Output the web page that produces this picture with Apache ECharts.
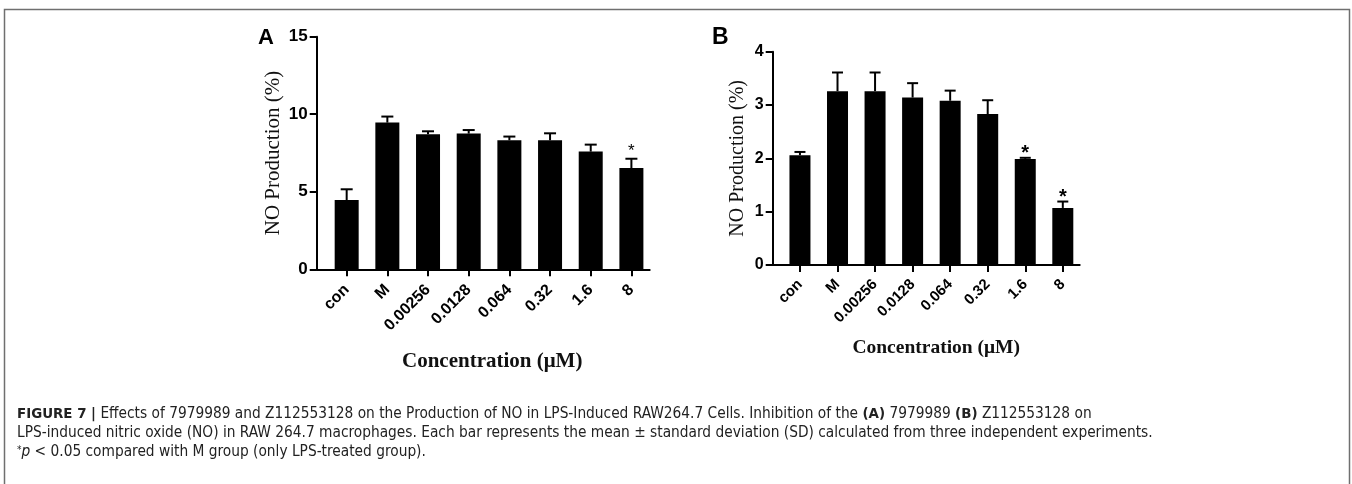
<!DOCTYPE html>
<html>
<head>
<meta charset="utf-8">
<script src="https://cdn.jsdelivr.net/npm/echarts@6/dist/echarts.min.js"></script>
<style>
  html, body { margin: 0; padding: 0; background: #fff; }
  #main { width: 1352px; height: 484px; }
</style>
</head>
<body>
<div id="main"></div>
<script>
// concentrations on the x axis (same for both panels)
const categories = ['con', 'M', '0.00256', '0.0128', '0.064', '0.32', '1.6', '8'];

// panel A: 7979989
const meanA = [4.47, 9.46, 8.71, 8.75, 8.32, 8.32, 7.59, 6.53];
const sdA = [0.69, 0.39, 0.19, 0.23, 0.24, 0.45, 0.45, 0.6];
const sigA = [0, 0, 0, 0, 0, 0, 0, 1];
const ticksA = [0, 5, 10, 15];

// panel B: Z112553128
const meanB = [2.06, 3.26, 3.26, 3.14, 3.08, 2.83, 1.99, 1.07];
const sdB = [0.06, 0.35, 0.35, 0.27, 0.19, 0.26, 0.02, 0.12];
const sigB = [0, 0, 0, 0, 0, 0, 1, 1];
const ticksB = [0, 1, 2, 3, 4];

const idx = categories.map((c, i) => i);
const serif = '"Liberation Serif", "Times New Roman", serif';
const sans = '"Liberation Sans", Arial, sans-serif';

function errRender(capW, starFont, starGap) {
  return function (params, api) {
    const i = api.value(0), v = api.value(1), e = api.value(2), s = api.value(3);
    const base = api.coord([i, v]);
    const top = api.coord([i, v + e]);
    const kids = [
      { type: 'line', shape: { x1: base[0], y1: base[1], x2: top[0], y2: top[1] },
        style: { stroke: '#000', lineWidth: 2 } },
      { type: 'line', shape: { x1: top[0] - capW / 2, y1: top[1], x2: top[0] + capW / 2, y2: top[1] },
        style: { stroke: '#000', lineWidth: 2 } }
    ];
    if (s) {
      kids.push({ type: 'text', style: { text: '*', x: top[0], y: top[1] - starGap,
        align: 'center', verticalAlign: 'top', font: starFont, fill: '#000' } });
    }
    return { type: 'group', children: kids };
  };
}

// shift moves the axis title right of the axis centre (px)
function xAxisFor(gridIndex, min, max, fontSize, margin, titleSize, gap, shift) {
  return {
    type: 'value', gridIndex: gridIndex, min: min, max: max,
    splitLine: { show: false },
    axisLine: { show: true, onZero: false, lineStyle: { color: '#000', width: 2 } },
    axisTick: { show: true, customValues: idx, length: 7, lineStyle: { color: '#000', width: 2 } },
    axisLabel: {
      show: true, customValues: idx, rotate: 45, margin: margin,
      formatter: v => categories[v], color: '#000',
      fontFamily: sans, fontWeight: 'bold', fontSize: fontSize
    },
    name: 'Concentration (\u03bcM)', nameLocation: 'middle', nameGap: gap,
    nameTextStyle: { fontFamily: serif, fontWeight: 'bold', fontSize: titleSize, color: '#111',
      padding: [0, 0, 0, shift * 2] }
  };
}

function yAxisFor(gridIndex, ticks, fontSize, titleSize, gap) {
  return {
    type: 'value', gridIndex: gridIndex, min: ticks[0], max: ticks[ticks.length - 1],
    interval: ticks[1] - ticks[0],
    splitLine: { show: false },
    axisLine: { show: true, onZero: false, lineStyle: { color: '#000', width: 2 } },
    axisTick: { show: true, length: 7, lineStyle: { color: '#000', width: 2 } },
    axisLabel: { color: '#000', fontFamily: sans, fontWeight: 'bold', fontSize: fontSize, margin: 9 },
    name: 'NO Production (%)', nameLocation: 'middle', nameGap: gap,
    nameTextStyle: { fontFamily: serif, fontSize: titleSize, color: '#111' }
  };
}

const chart = echarts.init(document.getElementById('main'), null, { renderer: 'canvas' });

const caption1 = '{b|FIGURE 7 |} Effects of 7979989 and Z112553128 on the Production of NO in LPS-Induced RAW264.7 Cells. Inhibition of the {b|(A)} 7979989 {b|(B)} Z112553128 on';
const caption2 = 'LPS-induced nitric oxide (NO) in RAW 264.7 macrophages. Each bar represents the mean \u00b1 standard deviation (SD) calculated from three independent experiments.';
const caption3 = '{s|*}{i|p} < 0.05 compared with M group (only LPS-treated group).';
const capFont = '"DejaVu Sans Condensed", "Liberation Sans", sans-serif';
const capSize = 15.3;
const capRich = {
  b: { fontWeight: 'bold', fontFamily: capFont, fontSize: capSize - 0.4, fill: '#222' },
  i: { fontStyle: 'italic', fontFamily: capFont, fontSize: capSize, fill: '#222' },
  s: { fontFamily: capFont, fontSize: 10, fill: '#222', verticalAlign: 'top' }
};

const option = {
  animation: false,
  backgroundColor: '#fff',
  grid: [
    { left: 316.7, top: 36.7, width: 333, height: 232.6 },
    { left: 772.7, top: 51.7, width: 307, height: 213.3 }
  ],
  xAxis: [
    xAxisFor(0, -0.737, 7.45, 16, 18, 21, 82, 9),
    xAxisFor(1, -0.726, 7.45, 15, 17, 19.5, 73, 10)
  ],
  yAxis: [
    yAxisFor(0, ticksA, 17, 21, 33),
    yAxisFor(1, ticksB, 16, 20, 25)
  ],
  series: [
    { type: 'bar', xAxisIndex: 0, yAxisIndex: 0, barWidth: 24,
      itemStyle: { color: '#000' }, data: meanA.map((v, i) => [i, v]) },
    { type: 'custom', xAxisIndex: 0, yAxisIndex: 0, renderItem: errRender(12, '17px ' + sans, 16),
      data: meanA.map((v, i) => [i, v, sdA[i], sigA[i]]), z: 3 },
    { type: 'bar', xAxisIndex: 1, yAxisIndex: 1, barWidth: 21,
      itemStyle: { color: '#000' }, data: meanB.map((v, i) => [i, v]) },
    { type: 'custom', xAxisIndex: 1, yAxisIndex: 1, renderItem: errRender(11, 'bold 20px ' + sans, 14),
      data: meanB.map((v, i) => [i, v, sdB[i], sigB[i]]), z: 3 }
  ],
  graphic: [
    { type: 'rect', shape: { x: 4.5, y: 9.5, width: 1345, height: 520 },
      style: { fill: 'none', stroke: '#6f6f6f', lineWidth: 1.5 } },
    { type: 'text', left: 258, top: 27,
      style: { text: 'A', font: 'bold 22px ' + sans, fill: '#000' } },
    { type: 'text', left: 712, top: 26,
      style: { text: 'B', font: 'bold 23px ' + sans, fill: '#000' } },
    { type: 'text', left: 17, top: 407,
      style: { text: caption1, font: capSize + 'px ' + capFont, fill: '#222', rich: capRich } },
    { type: 'text', left: 17, top: 426,
      style: { text: caption2, font: capSize + 'px ' + capFont, fill: '#222', rich: capRich } },
    { type: 'text', left: 17, top: 445,
      style: { text: caption3, font: capSize + 'px ' + capFont, fill: '#222', rich: capRich } }
  ]
};

chart.setOption(option);
</script>
</body>
</html>
